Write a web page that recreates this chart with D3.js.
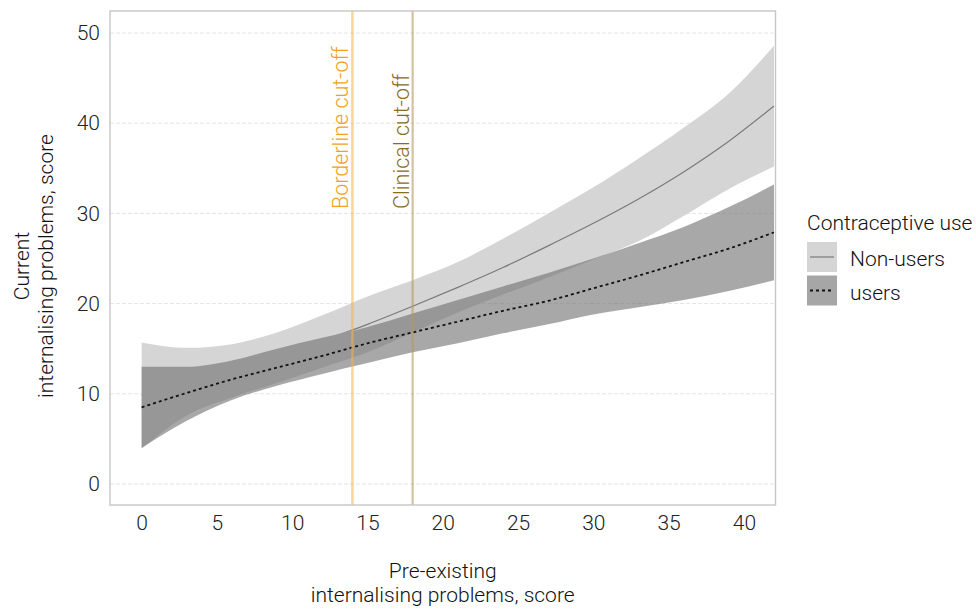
<!DOCTYPE html>
<html>
<head>
<meta charset="utf-8">
<script src="https://cdn.jsdelivr.net/npm/d3@7"></script>
<style>
  html, body { margin: 0; padding: 0; background: #fff; }
  svg { display: block; font-family: Roboto, "Open Sans", sans-serif; font-weight: 300; }
</style>
</head>
<body>
<svg id="chart" width="976" height="610"></svg>
<script>
// ---- data ----
const xValues       = [0, 3, 6, 9, 12, 15, 18, 21, 24, 27, 30, 33, 36, 39, 42];
const nonUsersMean  = [9.8, 11.3, 12.7, 14.2, 15.9, 17.7, 19.7, 21.8, 24.0, 26.4, 28.9, 31.6, 34.6, 38.0, 41.9];
const nonUsersUpper = [15.7, 15.1, 15.5, 16.8, 18.7, 20.8, 22.6, 24.6, 27.2, 30.0, 32.9, 36.1, 39.5, 43.3, 48.6];
const nonUsersLower = [3.9, 7.6, 9.6, 11.2, 12.9, 14.6, 16.8, 19.0, 21.0, 22.9, 24.9, 26.9, 29.7, 32.7, 35.2];
const usersMean     = [8.5, 10.1, 11.6, 12.9, 14.2, 15.6, 16.8, 18.0, 19.2, 20.3, 21.7, 23.1, 24.6, 26.1, 27.9];
const usersUpper    = [13.0, 13.0, 13.7, 15.0, 16.2, 17.4, 18.9, 20.4, 21.9, 23.4, 25.0, 26.7, 28.5, 30.7, 33.2];
const usersLower    = [4.0, 7.0, 9.3, 10.9, 12.2, 13.4, 14.6, 15.6, 16.7, 17.7, 18.8, 19.6, 20.4, 21.4, 22.6];
const cutoffs       = [{label: "Borderline cut-off", value: 14}, {label: "Clinical cut-off", value: 18}];
const xTicks        = [0, 5, 10, 15, 20, 25, 30, 35, 40];
const yTicks        = [0, 10, 20, 30, 40, 50];
const groups        = ["Non-users", "users"];
const legendTitle   = "Contraceptive use";
const xTitle        = ["Pre-existing", "internalising problems, score"];
const yTitle        = ["Current", "internalising problems, score"];

// ---- build series ----
const series = [
  {name: groups[0], mean: nonUsersMean, lo: nonUsersLower, hi: nonUsersUpper,
   fill: "#d5d5d5", fillOpacity: 1, stroke: "#7a7a7a", width: 1.2, dash: null},
  {name: groups[1], mean: usersMean, lo: usersLower, hi: usersUpper,
   fill: "#6a6a6a", fillOpacity: 0.585, stroke: "#111", width: 1.8, dash: "3,3"}
];
series.forEach(s => {
  s.pts = xValues.map((x, i) => ({x, m: s.mean[i], lo: s.lo[i], hi: s.hi[i]}));
});

const FS = 21;
const svg = d3.select("#chart");
const panel = {left: 110, right: 775.5, top: 11, bottom: 505};

const x = d3.scaleLinear().domain([-2.1, 42.1]).range([panel.left, panel.right]);
const y = d3.scaleLinear().domain([-2.33, 52.44]).range([panel.bottom, panel.top]);

const area = d3.area().curve(d3.curveMonotoneX)
  .x(d => x(d.x)).y0(d => y(d.lo)).y1(d => y(d.hi));
const line = d3.line().curve(d3.curveMonotoneX)
  .x(d => x(d.x)).y(d => y(d.m));

const defs = svg.append("defs");
defs.append("clipPath").attr("id", "clip")
  .append("rect").attr("x", panel.left).attr("y", panel.top)
  .attr("width", panel.right - panel.left).attr("height", panel.bottom - panel.top);
// users ribbon hides the non-users line beneath it
const mask = defs.append("mask").attr("id", "underUsers").attr("maskUnits", "userSpaceOnUse")
  .attr("x", 0).attr("y", 0).attr("width", 976).attr("height", 610);
mask.append("rect").attr("x", 0).attr("y", 0).attr("width", 976).attr("height", 610).attr("fill", "#fff");
mask.append("path").datum(series[1].pts).attr("d", area).attr("fill", "#000");

// gridlines
svg.append("g").selectAll("line").data(yTicks).join("line")
  .attr("x1", panel.left).attr("x2", panel.right)
  .attr("y1", d => y(d)).attr("y2", d => y(d))
  .attr("stroke", "#e4e4e4").attr("stroke-width", 1).attr("stroke-dasharray", "4,2");

const plot = svg.append("g").attr("clip-path", "url(#clip)");

series.forEach(s => {
  plot.append("path").datum(s.pts).attr("d", area)
    .attr("fill", s.fill).attr("fill-opacity", s.fillOpacity);
});
series.forEach((s, i) => {
  plot.append("path").datum(s.pts).attr("d", line)
    .attr("fill", "none").attr("stroke", s.stroke).attr("stroke-width", s.width)
    .attr("stroke-dasharray", s.dash)
    .attr("mask", i === 0 ? "url(#underUsers)" : null);
});

// cut-off lines
const cutStyles = [
  {line: "#f3b44a", lineOpacity: 0.55, text: "#f0a21e", w: 2.6},
  {line: "#b89a5e", lineOpacity: 0.6, text: "#8c6a22", w: 2.2}
];
cutoffs.forEach((c, i) => {
  plot.append("line")
    .attr("x1", x(c.value)).attr("x2", x(c.value))
    .attr("y1", panel.top).attr("y2", panel.bottom)
    .attr("stroke", cutStyles[i].line).attr("stroke-opacity", cutStyles[i].lineOpacity)
    .attr("stroke-width", cutStyles[i].w);
  svg.append("text")
    .attr("transform", `translate(${x(c.value) - 4},209) rotate(-90)`)
    .attr("text-anchor", "start")
    .attr("font-size", FS + 0.5)
    .attr("fill", cutStyles[i].text)
    .text(c.label);
});

// panel border
svg.append("rect").attr("x", panel.left).attr("y", panel.top)
  .attr("width", panel.right - panel.left).attr("height", panel.bottom - panel.top)
  .attr("fill", "none").attr("stroke", "#c6c6c6").attr("stroke-width", 1.4);

// axes (labels only, no tick marks)
const xAxis = svg.append("g").attr("transform", `translate(0,${panel.bottom})`)
  .call(d3.axisBottom(x).tickValues(xTicks).tickSize(0).tickPadding(10));
xAxis.select(".domain").remove();
xAxis.selectAll("text").attr("font-size", FS).attr("fill", "#222")
  .attr("font-family", "Roboto, sans-serif").attr("font-weight", 300);

const yAxis = svg.append("g").attr("transform", `translate(${panel.left},0)`)
  .call(d3.axisLeft(y).tickValues(yTicks).tickSize(0).tickPadding(10));
yAxis.select(".domain").remove();
yAxis.selectAll("text").attr("font-size", FS).attr("fill", "#222")
  .attr("font-family", "Roboto, sans-serif").attr("font-weight", 300);

// axis titles
const xt = svg.append("text").attr("text-anchor", "middle").attr("font-size", FS).attr("fill", "#111");
xTitle.forEach((t, i) => xt.append("tspan").attr("x", (panel.left + panel.right) / 2)
  .attr("y", 578 + i * 24).text(t));

const ytG = svg.append("g").attr("transform", "translate(0,266) rotate(-90)");
yTitle.forEach((t, i) => ytG.append("text").attr("text-anchor", "middle")
  .attr("x", 0).attr("y", 29 + i * 24).attr("font-size", FS).attr("fill", "#111").text(t));

// legend
const lg = svg.append("g").attr("transform", "translate(807,0)");
lg.append("text").attr("x", 0).attr("y", 230).attr("font-size", FS).attr("fill", "#111").text(legendTitle);
series.forEach((s, i) => {
  const top = 242 + i * 33.5;
  lg.append("rect").attr("x", 0).attr("y", top).attr("width", 30).attr("height", 30)
    .attr("fill", "#fff");
  lg.append("rect").attr("x", 0).attr("y", top).attr("width", 30).attr("height", 30)
    .attr("fill", s.fill).attr("fill-opacity", i === 1 ? 0.6 : s.fillOpacity);
  lg.append("line").attr("x1", 3).attr("x2", 27).attr("y1", top + 15).attr("y2", top + 15)
    .attr("stroke", s.stroke).attr("stroke-width", s.width).attr("stroke-dasharray", s.dash);
  lg.append("text").attr("x", 43).attr("y", top + 24).attr("font-size", FS).attr("fill", "#111").text(s.name);
});
</script>
</body>
</html>
